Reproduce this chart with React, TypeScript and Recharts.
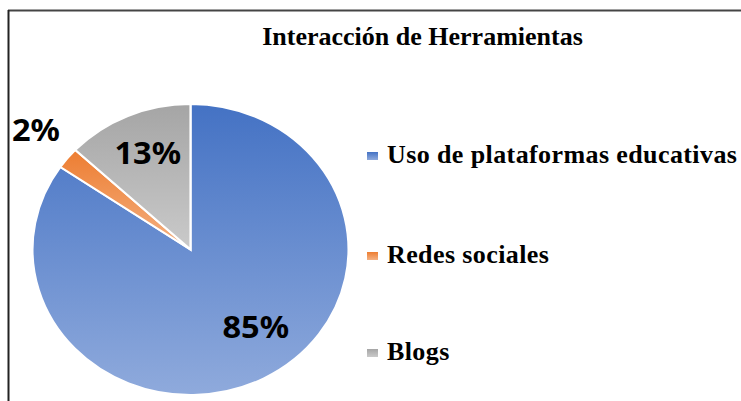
import React from "react";
import { PieChart, Pie, Cell } from "recharts";

const title = "Interacción de Herramientas";
const categories = ["Uso de plataformas educativas", "Redes sociales", "Blogs"];
const values = [84.6, 2.4, 13.0];
const percentLabels = ["85%", "2%", "13%"];

const gradients = [
  { id: "gBlue", from: "#4472C4", to: "#8FAADC" },
  { id: "gOrange", from: "#ED7D31", to: "#F4B183" },
  { id: "gGray", from: "#A5A5A5", to: "#CACACA" },
];

// label placement style: radius fraction and angle shift (degrees)
const labelPlacement = [
  { r: 0.675, da: 10 },
  { r: 1.275, da: -1 },
  { r: 0.71, da: -1 },
];

const data = categories.map((name, i) => ({ name, value: values[i], label: percentLabels[i] }));

const CX = 190.5;
const CY = 249.5;
const R = 145.5;
const STRETCH = 1.086;
const RAD = Math.PI / 180;

const renderLabel = (props: any) => {
  const { cx, cy, midAngle, outerRadius, index } = props;
  const p = labelPlacement[index];
  const a = (midAngle + p.da) * RAD;
  const rr = outerRadius * p.r;
  const x = cx + rr * Math.cos(a);
  const y = cy - rr * Math.sin(a);
  return (
    <text
      key={"lbl" + index}
      x={x}
      y={y + 10.5}
      textAnchor="middle"
      fill="#000"
      fontFamily="'Noto Sans', 'Open Sans', sans-serif"
      fontWeight={700}
      fontSize={30}
    >
      {data[index].label}
    </text>
  );
};

export default function App() {
  const legendX = 367;
  const legendBaselines = [163, 263, 360];
  return (
    <div style={{ position: "fixed", left: 0, top: 0, width: 741, height: 401, background: "#fff", overflow: "hidden" }}>
      <svg width={0} height={0} style={{ position: "absolute" }}>
        <defs>
          {gradients.map((g) => (
            <linearGradient key={g.id} id={g.id} x1="0" y1="0" x2="0" y2="1">
              <stop offset="0%" stopColor={g.from} />
              <stop offset="100%" stopColor={g.to} />
            </linearGradient>
          ))}
        </defs>
      </svg>
      <div
        style={{
          position: "absolute",
          left: 0,
          top: 0,
          width: 400,
          height: 401,
          transform: `scaleX(${STRETCH})`,
          transformOrigin: `${CX}px ${CY}px`,
        }}
      >
        <PieChart width={400} height={401} margin={{ top: 0, right: 0, bottom: 0, left: 0 }}>
          <Pie
            data={data}
            dataKey="value"
            nameKey="name"
            cx={CX}
            cy={CY}
            outerRadius={R}
            startAngle={90}
            endAngle={-270}
            stroke="#fff"
            strokeWidth={2}
            label={renderLabel}
            labelLine={false}
            isAnimationActive={false}
          >
            {data.map((d, i) => (
              <Cell key={d.name} fill={`url(#${gradients[i].id})`} />
            ))}
          </Pie>
        </PieChart>
      </div>
      <svg width={741} height={401} style={{ position: "absolute", left: 0, top: 0, pointerEvents: "none" }}>
        <line x1={8} y1={10.5} x2={741} y2={10.5} stroke="#444" strokeWidth={2} />
        <line x1={8.5} y1={10} x2={8.5} y2={401} stroke="#222" strokeWidth={2} />
        <text
          x={422.5}
          y={45}
          textAnchor="middle"
          fontFamily="'Liberation Serif', 'Times New Roman', serif"
          fontWeight={700}
          fontSize={26}
          fill="#000"
        >
          {title}
        </text>
        {categories.map((c, i) => (
          <g key={c}>
            <rect x={legendX} y={legendBaselines[i] - 11} width={11} height={8} fill={`url(#${gradients[i].id})`} />
            <text
              x={legendX + 20}
              y={legendBaselines[i]}
              fontFamily="'Liberation Serif', 'Times New Roman', serif"
              fontWeight={700}
              fontSize={26}
              letterSpacing={0.4}
              fill="#000"
            >
              {c}
            </text>
          </g>
        ))}
      </svg>
    </div>
  );
}
